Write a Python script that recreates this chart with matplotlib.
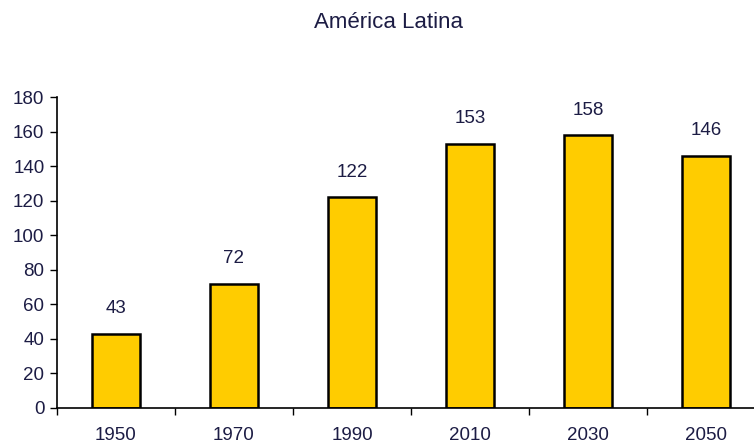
import matplotlib.pyplot as plt

plt.rcParams['font.family'] = ['Liberation Sans', 'DejaVu Sans']

# datos
anos = ['1950', '1970', '1990', '2010', '2030', '2050']
valores = [43, 72, 122, 153, 158, 146]

txt = '#1c1c44'

fig = plt.figure(figsize=(7.54, 4.46), dpi=100)
# el eje se sale un poco por la derecha, como en el original
ax = fig.add_axes([57 / 754, 38 / 446, 708 / 754, 311 / 446])

x = range(len(anos))
ax.bar(x, valores, width=0.41, color='#ffcc00', edgecolor='black', linewidth=1.8)

for xi, v in zip(x, valores):
    ax.annotate(str(v), (xi, v), xytext=(0, 18), textcoords='offset points',
                ha='center', va='center', fontsize=13.5, color=txt)

ax.set_xlim(-0.5, 5.5)
ax.set_ylim(0, 180)
ax.set_yticks(range(0, 181, 20))
ax.set_xticks([i + 0.5 for i in range(-1, 6)], minor=False)
ax.set_xticklabels([])
ax.set_xticks(list(x), minor=True)
ax.set_xticklabels(anos, minor=True)
ax.tick_params(axis='x', which='minor', length=0, pad=14, labelsize=13.5, labelcolor=txt)
ax.tick_params(axis='x', which='major', length=5, width=1, direction='out')
ax.tick_params(axis='y', length=5, width=1, direction='out', labelsize=13.5, labelcolor=txt, pad=4)

for s in ['top', 'right']:
    ax.spines[s].set_visible(False)
ax.spines['left'].set_linewidth(1.2)
ax.spines['bottom'].set_linewidth(1.2)

fig.text(389 / 754, 1 - 22 / 446, 'América Latina', ha='center', va='center',
         fontsize=16, color=txt)

fig.savefig('out.png', dpi=100)
